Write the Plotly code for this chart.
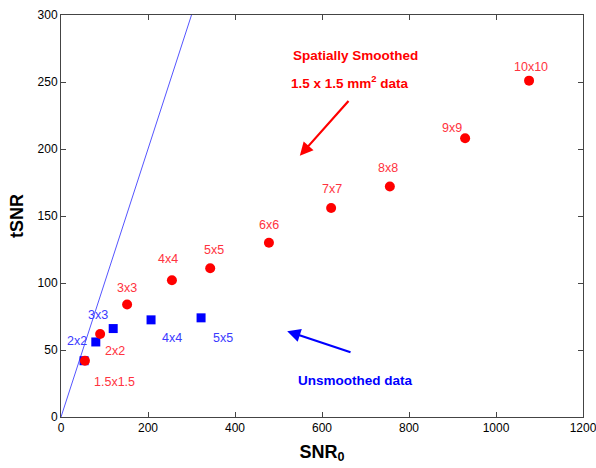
import plotly.graph_objects as go

sizes = ["1.5x1.5", "2x2", "3x3", "4x4", "5x5", "6x6", "7x7", "8x8", "9x9", "10x10"]
smooth_snr0 = [55, 90, 152, 255, 343, 478, 621, 756, 929, 1076]
smooth_tsnr = [42, 62, 84, 102, 111, 130, 156, 172, 208, 251]

unsm_sizes = ["1.5x1.5", "2x2", "3x3", "4x4", "5x5"]
unsm_snr0 = [53, 80, 120, 207, 322]
unsm_tsnr = [42, 56, 66, 72.5, 74]

identity_x = [0, 300]
identity_y = [0, 300]

red_label_pos = [(122, 26), (125, 49), (152, 96), (245, 118), (352, 125), (478, 143), (622, 170), (752, 186), (899, 216), (1080, 261)]
blue_label_pos = [(36, 57), (85, 76), (255, 59), (372, 59)]

fig = go.Figure()
fig.add_trace(go.Scatter(x=identity_x, y=identity_y, mode="lines",
                         line=dict(color="#5555ff", width=1), showlegend=False))
fig.add_trace(go.Scatter(x=unsm_snr0, y=unsm_tsnr, mode="markers",
                         marker=dict(symbol="square", size=9, color="#0000ff"), showlegend=False))
fig.add_trace(go.Scatter(x=smooth_snr0, y=smooth_tsnr, mode="markers",
                         marker=dict(symbol="circle", size=10, color="#ff0000"), showlegend=False))

lab_font = "Liberation Sans, Arial, sans-serif"
for s, (lx, ly) in zip(sizes, red_label_pos):
    fig.add_annotation(x=lx, y=ly, text=s, showarrow=False,
                       font=dict(family=lab_font, size=12.5, color="#ff3340"))
for s, (lx, ly) in zip(unsm_sizes[1:], blue_label_pos):
    fig.add_annotation(x=lx, y=ly, text=s, showarrow=False,
                       font=dict(family=lab_font, size=12.5, color="#3a3aff"))

fig.add_annotation(x=676, y=270, text="<b>Spatially Smoothed</b>", showarrow=False,
                   font=dict(family=lab_font, size=13.5, color="#ff0000"))
fig.add_annotation(x=664, y=250, text="<b>1.5 x 1.5 mm<sup>2</sup> data</b>", showarrow=False,
                   font=dict(family=lab_font, size=13.5, color="#ff0000"))
fig.add_annotation(x=676, y=27, text="<b>Unsmoothed data</b>", showarrow=False,
                   font=dict(family=lab_font, size=13.5, color="#0000ff"))

fig.add_annotation(x=549, y=195, ax=664, ay=237, axref="x", ayref="y",
                   text="", showarrow=True, arrowhead=2, arrowsize=1.2, arrowwidth=2.2,
                   arrowcolor="#ff0000")
fig.add_annotation(x=520, y=64, ax=669, ay=48, axref="x", ayref="y",
                   text="", showarrow=True, arrowhead=2, arrowsize=1.2, arrowwidth=2.2,
                   arrowcolor="#0000ff")

# y-axis title placed as an annotation for precise positioning
fig.add_annotation(xref="paper", yref="paper", x=0, y=0.5, xanchor="center", yanchor="middle",
                   xshift=-44, text="<b>tSNR</b>", textangle=-90, showarrow=False,
                   font=dict(family=lab_font, size=18, color="black"))

axis_common = dict(showline=True, linecolor="#444", linewidth=1, mirror="ticks",
                   ticks="inside", ticklen=5, tickcolor="#444", showgrid=False,
                   zeroline=False, automargin=False, ticklabeloverflow="allow",
                   tickfont=dict(family=lab_font, size=12, color="black"))
fig.update_xaxes(range=[0, 1200], tickvals=[0, 200, 400, 600, 800, 1000, 1200],
                 title=dict(text="<b>SNR<sub>0</sub></b>", font=dict(family=lab_font, size=18, color="black"), standoff=10),
                 **axis_common)
fig.update_yaxes(range=[0, 300], tickvals=[0, 50, 100, 150, 200, 250, 300],
                 **axis_common)
fig.update_layout(width=596, height=468, margin=dict(l=61, r=13, t=15, b=51, autoexpand=False),
                  plot_bgcolor="white", paper_bgcolor="white")
fig.write_html("out.html", config={"displayModeBar": False},
               post_script="document.body.style.margin='0px';document.body.style.overflow='hidden';")
